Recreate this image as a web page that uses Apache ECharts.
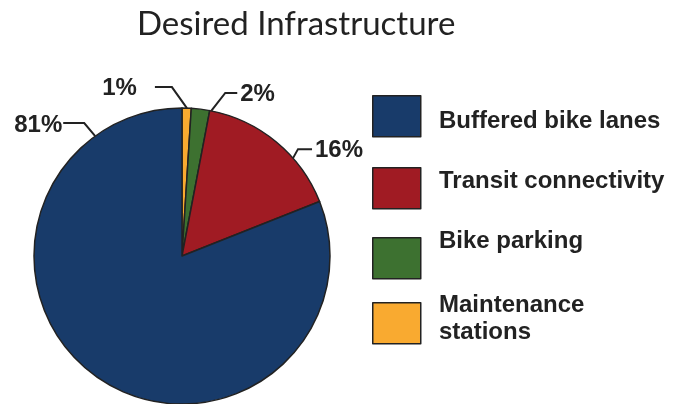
<!DOCTYPE html>
<html>
<head>
<meta charset="utf-8">
<script src="https://cdn.jsdelivr.net/npm/echarts@6/dist/echarts.min.js"></script>
<style>
  html, body { margin: 0; padding: 0; background: #fff; }
  #chart { width: 677px; height: 404px; }
</style>
</head>
<body>
<div id="chart"></div>
<script>
// Survey answers, in clockwise order from 12 o'clock
const categories = ['Maintenance stations', 'Bike parking', 'Transit connectivity', 'Buffered bike lanes'];
const shares = [1, 2, 16, 81];
// Order of the entries in the legend
const legendOrder = ['Buffered bike lanes', 'Transit connectivity', 'Bike parking', 'Maintenance stations'];

// Styling
const sliceColors = {
  'Buffered bike lanes': '#183B6A',
  'Transit connectivity': '#A01B23',
  'Bike parking': '#3D7130',
  'Maintenance stations': '#F9AA30'
};
const CX = 182, CY = 256, R = 148;
const outline = '#222222';
const labelFont = 'Liberation Sans, Arial, sans-serif';

// Leader lines: rim angle (deg, clockwise from top), elbow offset, tail length, text gap
const leaders = {
  'Maintenance stations': { angle: 1.9, elbow: [-15, -21], tail: -17, gap: 18, dy: 1 },
  'Bike parking':         { angle: 11.4, elbow: [14, -18], tail: 12, gap: 3, dy: 1 },
  'Transit connectivity': { angle: 48.6, elbow: [5, -9], tail: 14, gap: 3, dy: 1 },
  'Buffered bike lanes':  { angle: 324.1, elbow: [-11, -13], tail: -21, gap: 1, dy: 2 }
};

// Legend rows: swatch top and top of the text block (text sits slightly off the swatch centre)
const SWATCH_LEFT = 372, TEXT_LEFT = 439;
const SWATCH_W = 48, SWATCH_H = 41, LINE_H = 27;
const legendRows = [
  { swatchTop: 95,  textTop: 108 },
  { swatchTop: 167, textTop: 168 },
  { swatchTop: 237, textTop: 228 },
  { swatchTop: 302, textTop: 291.5 }
];

const chart = echarts.init(document.getElementById('chart'), null, { renderer: 'canvas' });

const pieData = categories.map((name, i) => ({
  name: name,
  value: shares[i],
  itemStyle: { color: sliceColors[name] }
}));

const legendLabel = n => n === 'Maintenance stations' ? 'Maintenance\nstations' : n;

const legends = [];
legendOrder.forEach((name, i) => {
  const row = legendRows[i];
  // colour swatch
  legends.push({
    data: [name],
    left: SWATCH_LEFT,
    top: row.swatchTop,
    padding: 0,
    icon: 'rect',
    itemWidth: SWATCH_W,
    itemHeight: SWATCH_H,
    selectedMode: false,
    itemStyle: { borderColor: outline, borderWidth: 1.5 },
    formatter: () => '',
    textStyle: { fontSize: 1, padding: 0 }
  });
  // entry name
  legends.push({
    data: [name],
    left: TEXT_LEFT - 5,
    top: row.textTop,
    padding: 0,
    icon: 'none',
    itemWidth: 0,
    itemHeight: 0,
    selectedMode: false,
    formatter: legendLabel,
    textStyle: {
      fontFamily: labelFont,
      fontWeight: 'bold',
      fontSize: 24,
      lineHeight: LINE_H,
      color: '#222'
    }
  });
});

chart.setOption({
  animation: false,
  backgroundColor: '#ffffff',
  title: {
    text: 'Desired Infrastructure',
    left: 137,
    top: 8,
    padding: 0,
    textStyle: {
      fontFamily: 'Lato, sans-serif',
      fontWeight: 'normal',
      fontSize: 33,
      color: '#222'
    }
  },
  legend: legends,
  series: [{
    type: 'pie',
    center: [CX, CY],
    radius: R,
    startAngle: 90,
    clockwise: true,
    silent: true,
    avoidLabelOverlap: false,
    data: pieData,
    itemStyle: { borderColor: outline, borderWidth: 1.5 },
    label: {
      show: true,
      position: 'outside',
      formatter: '{c}%',
      fontFamily: labelFont,
      fontWeight: 'bold',
      fontSize: 24,
      color: '#222'
    },
    labelLine: {
      show: true,
      lineStyle: { color: outline, width: 2 }
    },
    labelLayout: function (params) {
      const name = categories[params.dataIndex];
      const L = leaders[name];
      const a = L.angle * Math.PI / 180;
      const ax = CX + R * Math.sin(a);
      const ay = CY - R * Math.cos(a);
      const ex = ax + L.elbow[0];
      const ey = ay + L.elbow[1];
      const tx = ex + L.tail;
      const side = L.tail < 0 ? -1 : 1;
      return {
        x: tx + side * L.gap,
        y: ey + L.dy,
        align: side < 0 ? 'right' : 'left',
        verticalAlign: 'middle',
        labelLinePoints: [[ax, ay], [ex, ey], [tx, ey]]
      };
    }
  }]
});
</script>
</body>
</html>
